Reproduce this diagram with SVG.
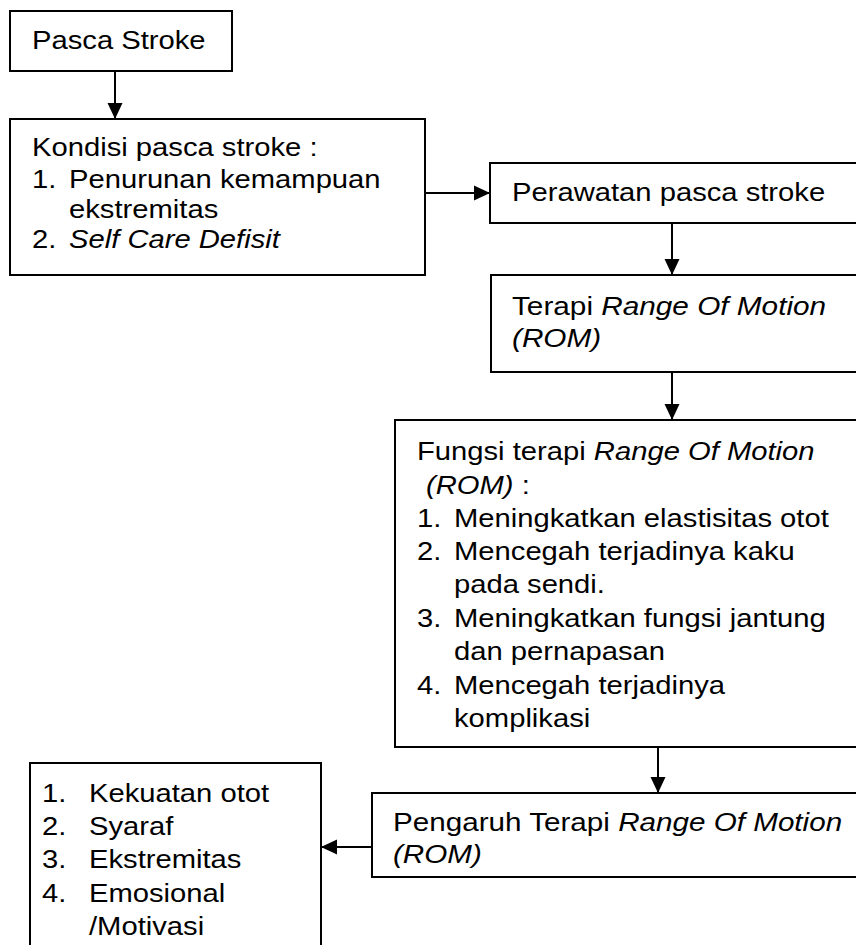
<svg xmlns="http://www.w3.org/2000/svg" width="856" height="945" viewBox="0 0 856 945">
<style>
  .box { fill: #ffffff; stroke: #000000; stroke-width: 2; }
  .t { font-family: "Liberation Sans", Arial, sans-serif; font-size: 25px; fill: #000000; }
  .i { font-style: italic; }
  .con { stroke: #000000; stroke-width: 2; fill: none; marker-end: url(#arr); }
</style>
<defs>
  <marker id="arr" markerWidth="16" markerHeight="16" refX="16" refY="8" orient="auto" markerUnits="userSpaceOnUse">
    <path d="M0,0.5 L16,8 L0,15.5 z" fill="#000000"/>
  </marker>
</defs>
<rect width="856" height="945" fill="#ffffff"/>

<g id="node-pasca-stroke">
  <rect class="box" x="10" y="11" width="222" height="60"/>
  <g transform="matrix(1.168 0 0 1 -5.376 0)">
    <text class="t" x="32" y="49">Pasca Stroke</text>
  </g>
</g>

<g id="node-kondisi">
  <rect class="box" x="10" y="119" width="415" height="156"/>
  <g transform="matrix(1.168 0 0 1 -5.376 0)">
    <text class="t" x="32" y="156">Kondisi pasca stroke :</text>
    <text class="t" x="32" y="188">1.</text>
    <text class="t" x="32" y="248">2.</text>
  </g>
  <g transform="matrix(1.168 0 0 1 -11.592 0)">
    <text class="t" x="69" y="188">Penurunan kemampuan</text>
    <text class="t" x="69" y="218">ekstremitas</text>
    <text class="t i" x="69" y="248">Self Care Defisit</text>
  </g>
</g>

<g id="node-perawatan">
  <rect class="box" x="490" y="163" width="400" height="60"/>
  <g transform="matrix(1.168 0 0 1 -86.016 0)">
    <text class="t" x="512" y="201">Perawatan pasca stroke</text>
  </g>
</g>

<g id="node-terapi">
  <rect class="box" x="491" y="275" width="400" height="97"/>
  <g transform="matrix(1.19 0 0 1 -97.28 0)">
    <text class="t" x="512" y="315">Terapi <tspan class="i">Range Of Motion</tspan></text>
    <text class="t i" x="512" y="347">(ROM)</text>
  </g>
</g>

<g id="node-fungsi">
  <rect class="box" x="395" y="420" width="500" height="327"/>
  <g transform="matrix(1.168 0 0 1 -70.056 0)">
    <text class="t" x="417" y="460">Fungsi terapi <tspan class="i">Range Of Motion</tspan></text>
    <text class="t" x="417" y="527">1.</text>
    <text class="t" x="417" y="560">2.</text>
    <text class="t" x="417" y="627">3.</text>
    <text class="t" x="417" y="694">4.</text>
  </g>
  <g transform="matrix(1.168 0 0 1 -71.568 0)">
    <text class="t" x="426" y="494"><tspan class="i">(ROM)</tspan> :</text>
  </g>
  <g transform="matrix(1.168 0 0 1 -76.272 0)">
    <text class="t" x="454" y="527">Meningkatkan elastisitas otot</text>
    <text class="t" x="454" y="560">Mencegah terjadinya kaku</text>
    <text class="t" x="454" y="593">pada sendi.</text>
    <text class="t" x="454" y="627">Meningkatkan fungsi jantung</text>
    <text class="t" x="454" y="660">dan pernapasan</text>
    <text class="t" x="454" y="694">Mencegah terjadinya</text>
    <text class="t" x="454" y="727">komplikasi</text>
  </g>
</g>

<g id="node-pengaruh">
  <rect class="box" x="372" y="793" width="520" height="84"/>
  <g transform="matrix(1.186 0 0 1 -73.098 0)">
    <text class="t" x="393" y="831">Pengaruh Terapi <tspan class="i">Range Of Motion</tspan></text>
    <text class="t i" x="393" y="863">(ROM)</text>
  </g>
</g>

<g id="node-hasil">
  <rect class="box" x="30" y="763" width="291" height="200"/>
  <g transform="matrix(1.168 0 0 1 -7.056 0)">
    <text class="t" x="42" y="802">1.</text>
    <text class="t" x="42" y="835">2.</text>
    <text class="t" x="42" y="868">3.</text>
    <text class="t" x="42" y="902">4.</text>
  </g>
  <g transform="matrix(1.168 0 0 1 -14.952 0)">
    <text class="t" x="89" y="802">Kekuatan otot</text>
    <text class="t" x="89" y="835">Syaraf</text>
    <text class="t" x="89" y="868">Ekstremitas</text>
    <text class="t" x="89" y="902">Emosional</text>
    <text class="t" x="89" y="935">/Motivasi</text>
  </g>
</g>

<g id="connectors">
  <path class="con" d="M115,71 L115,119"/>
  <path class="con" d="M425,193 L490,193"/>
  <path class="con" d="M672,223 L672,275"/>
  <path class="con" d="M672,372 L672,420"/>
  <path class="con" d="M658,747 L658,793"/>
  <path class="con" d="M372,847 L321,847"/>
</g>
</svg>
